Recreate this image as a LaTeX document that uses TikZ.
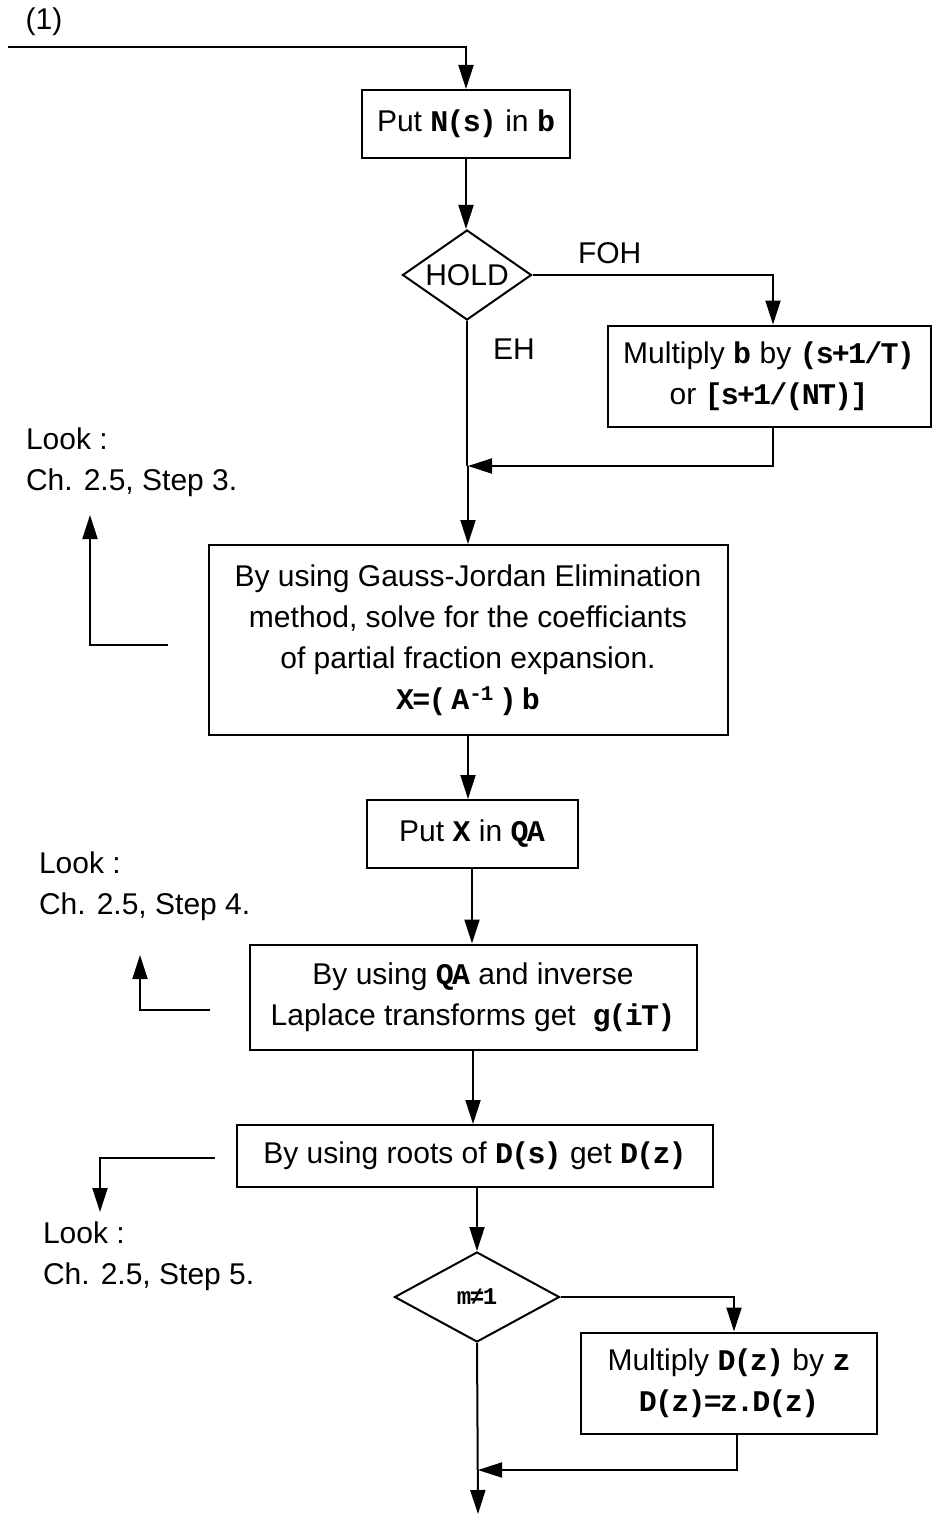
\documentclass[tikz,border=0pt]{standalone}
\usepackage{fontspec}
\setmainfont{Liberation Sans}
\newfontfamily\varfont[LetterSpace=-6]{Liberation Mono}
\usetikzlibrary{arrows.meta,shapes.geometric}
\newcommand\vb[1]{{\varfont\bfseries #1}}
\begin{document}
\begin{tikzpicture}[x=1pt,y=-1pt,
  font=\fontsize{30}{41}\selectfont,
  line width=2pt,
  box/.style={draw, inner sep=0pt, align=center},
  test/.style={draw, shape=diamond, inner sep=0pt},
  note/.style={anchor=west, align=left, inner sep=0pt},
  flow/.style={-{Triangle[length=24pt,width=15pt]}}]
\useasboundingbox (0,0) rectangle (932,1514);

% entry from page (1)
\node[inner sep=0pt] (lab1) at (44,22) {(1)};
\coordinate (start) at (8,47);

% processing boxes
\node[box, minimum width=208, minimum height=68] (b1) at (466,124) {Put \vb{N(s)} in \vb{b}};
\node[test, shape aspect=1.43, minimum width=129, minimum height=90] (d1) at (467,275) {HOLD};
\node[box, minimum width=323, minimum height=101] (b2) at (769,376)
  {Multiply \vb{b} by \vb{(s+1/T)}\\ or \vb{[s+1/(NT)]}};
\node[box, minimum width=519, minimum height=190] (b3) at (468,640)
  {By using Gauss-Jordan Elimination\\ method, solve for the coefficiants\\
   of partial fraction expansion.\\ \vb{X=(\,A\textsuperscript{-1}\,)\,b}};
\node[box, minimum width=211, minimum height=68] (b4) at (472,834) {Put \vb{X} in \vb{QA}};
\node[box, minimum width=447, minimum height=105] (b5) at (473,997)
  {By using \vb{QA} and inverse\\ Laplace transforms get \ \vb{g(iT)}};
\node[box, minimum width=476, minimum height=62] (b6) at (475,1156)
  {By using roots of \vb{D(s)} get \vb{D(z)}};
\node[test, shape aspect=1.83, minimum width=165, minimum height=90, font=\fontsize{24}{26}\selectfont] (d2) at (477,1297)
  {\vb{m≠1}};
\node[box, minimum width=296, minimum height=101] (b7) at (729,1383)
  {Multiply \vb{D(z)} by \vb{z}\\ \vb{D(z)=z.D(z)}};

% branch labels
\node[note] (foh) at (577,253) {FOH};
\node[note] (eh) at (492,349) {EH};

% cross references
\node[note] (look3) at (25,462) {Look :\\ Ch. 2.5, Step 3.};
\node[note] (look4) at (38,886) {Look :\\ Ch. 2.5, Step 4.};
\node[note] (look5) at (42,1256) {Look :\\ Ch. 2.5, Step 5.};

% junction points and free ends
\coordinate (m1) at (468,466);
\coordinate (m2) at (478,1470);
\coordinate (end) at (478,1514);
\coordinate (r3a) at (168,645);
\coordinate (r3b) at (90,515);
\coordinate (r4a) at (210,1010);
\coordinate (r4b) at (140,955);
\coordinate (r5a) at (215,1158);
\coordinate (r5b) at (100,1212);

% main flow
\draw[flow] (start) -| (b1.north);
\draw[flow] (b1.south) -- (b1.south |- d1.north);
\draw[flow] (d1.east) -| ([xshift=4pt]b2.north);
\draw (d1.south) -- (d1.south |- m1);
\draw[flow] ([xshift=4pt]b2.south) |- (m1);
\draw[flow] (m1) -- (m1 |- b3.north);
\draw[flow] (b3.south) -- (b3.south |- b4.north);
\draw[flow] (b4.south) -- (b4.south |- b5.north);
\draw[flow] (b5.south) -- (b5.south |- b6.north);
\draw[flow] ([xshift=2pt]b6.south) -- ([xshift=2pt]b6.south |- d2.north);
\draw[flow] (d2.east) -| ([xshift=5pt]b7.north);
\draw[flow] ([xshift=8pt]b7.south) |- (m2);
\draw[flow] (d2.south) -- (end);

% references to the text
\draw[flow] (r3a) -| (r3b);
\draw[flow] (r4a) -| (r4b);
\draw[flow] (r5a) -| (r5b);
\end{tikzpicture}
\end{document}
